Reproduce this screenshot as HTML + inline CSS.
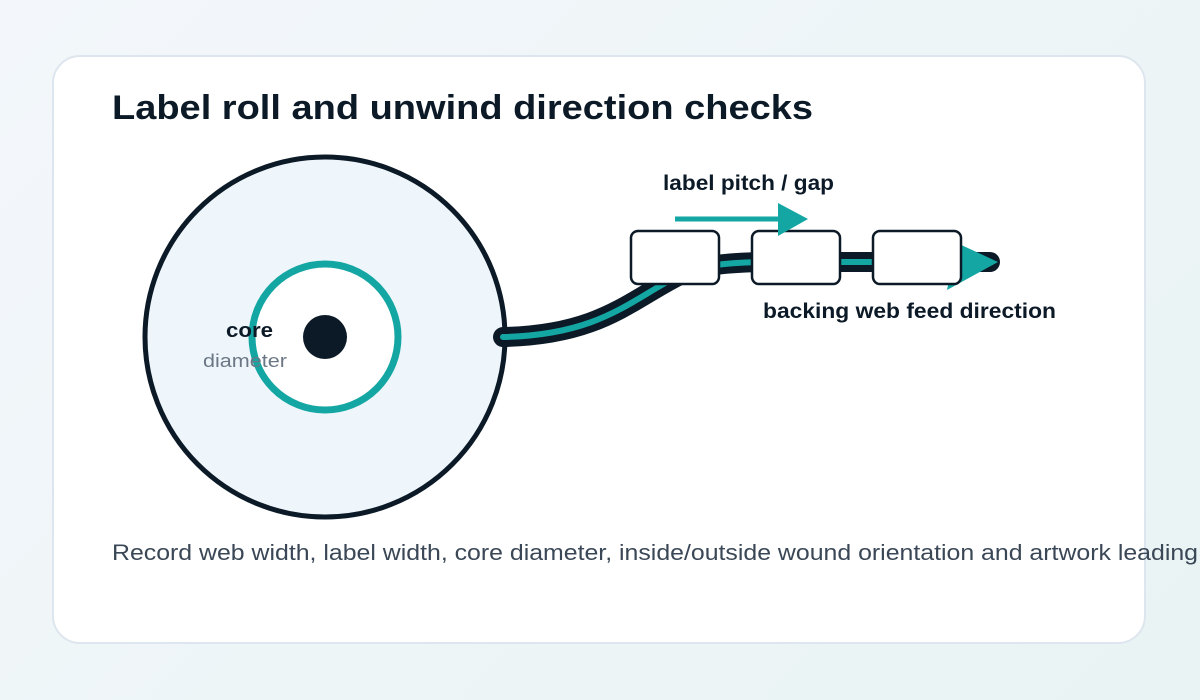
<!DOCTYPE html>
<html><head><meta charset="utf-8"><style>
html,body{margin:0;padding:0;width:1200px;height:700px;overflow:hidden;background:linear-gradient(135deg,#f3f7fb,#e9f3f3);font-family:"Liberation Sans",sans-serif}
.card{position:absolute;left:52px;top:55px;width:1094px;height:589px;background:#fff;border:2px solid #dde6ee;border-radius:28px;box-sizing:border-box}
</style></head><body>
<div class="card"></div>
<svg width="1200" height="700" style="position:absolute;left:0;top:0">
<text x="112" y="119" font-size="34" font-weight="bold" fill="#0c1a27" textLength="701" lengthAdjust="spacingAndGlyphs">Label roll and unwind direction checks</text>
<circle cx="325" cy="337" r="180" fill="#eef6fb" stroke="#0c1a27" stroke-width="5"/>
<circle cx="325" cy="337" r="73" fill="#fff" stroke="#14a6a3" stroke-width="7"/>
<circle cx="325" cy="337" r="22" fill="#0c1a27"/>
<text x="226" y="337" font-size="20" font-weight="bold" fill="#0c1a27" textLength="47" lengthAdjust="spacingAndGlyphs">core</text>
<text x="203" y="367" font-size="18" fill="#6b7785" textLength="84" lengthAdjust="spacingAndGlyphs">diameter</text>
<path d="M503 337 C600 335 630 300 680 275 C700 266 720 263 760 262 L990 262" fill="none" stroke="#0c1a27" stroke-width="20" stroke-linecap="round"/>
<path d="M503 337 C600 335 630 300 680 275 C700 266 720 263 760 262 L990 262" fill="none" stroke="#14a6a3" stroke-width="6" stroke-linecap="round"/>
<polygon points="957,243 998,262 947,290" fill="#14a6a3"/>
<rect x="631" y="231" width="88" height="53" rx="7" fill="#fff" stroke="#0c1a27" stroke-width="2.5"/>
<rect x="752" y="231" width="88" height="53" rx="7" fill="#fff" stroke="#0c1a27" stroke-width="2.5"/>
<rect x="873" y="231" width="88" height="53" rx="7" fill="#fff" stroke="#0c1a27" stroke-width="2.5"/>
<line x1="675" y1="219" x2="780" y2="219" stroke="#14a6a3" stroke-width="5"/>
<polygon points="778,203 808,219 778,236" fill="#14a6a3"/>
<text x="663" y="190" font-size="21" font-weight="bold" fill="#0c1a27" textLength="171" lengthAdjust="spacingAndGlyphs">label pitch / gap</text>
<text x="763" y="318" font-size="21" font-weight="bold" fill="#0c1a27" textLength="293" lengthAdjust="spacingAndGlyphs">backing web feed direction</text>
<text x="112" y="560" font-size="22" fill="#3a4756" textLength="1086" lengthAdjust="spacingAndGlyphs">Record web width, label width, core diameter, inside/outside wound orientation and artwork leading</text>
<text x="1205" y="560" font-size="22" fill="#3a4756">edge.</text>
</svg>
</body></html>
